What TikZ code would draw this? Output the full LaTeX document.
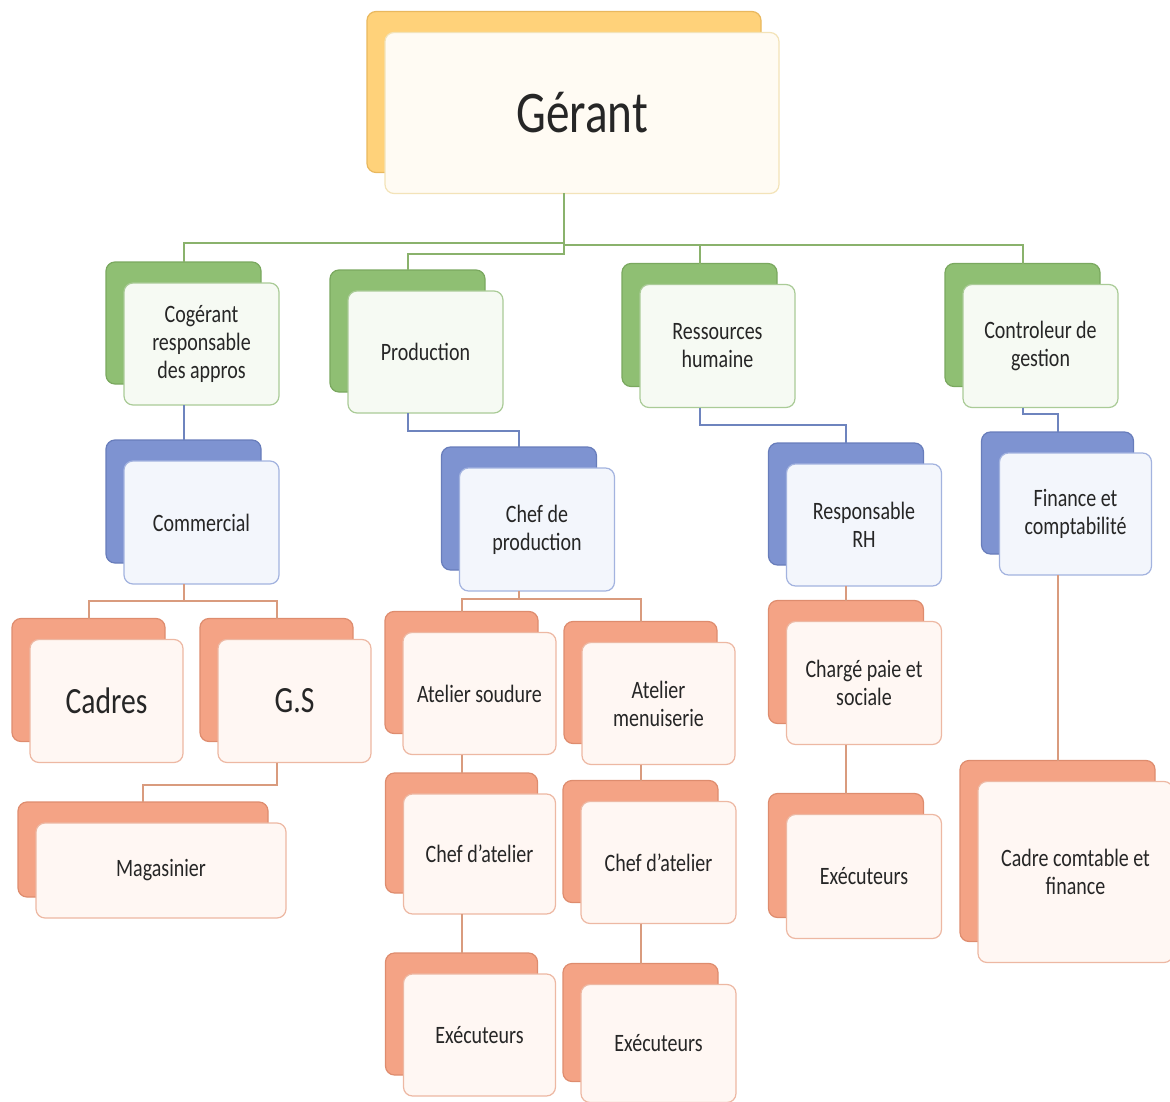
\documentclass[tikz,border=0pt]{standalone}
\usepackage{fontspec}
\setmainfont{Carlito}[FakeStretch=0.8]
\definecolor{txt}{HTML}{262626}
\definecolor{yback}{HTML}{FFD27A}
\definecolor{ybackd}{HTML}{E9B85E}
\definecolor{yfront}{HTML}{FFFBF3}
\definecolor{yfrontd}{HTML}{F3E3B8}
\definecolor{gback}{HTML}{8FBF73}
\definecolor{gbackd}{HTML}{7AA85F}
\definecolor{gfront}{HTML}{F6FAF3}
\definecolor{gfrontd}{HTML}{AACB97}
\definecolor{bback}{HTML}{7E93D1}
\definecolor{bbackd}{HTML}{687DBB}
\definecolor{bfront}{HTML}{F3F6FC}
\definecolor{bfrontd}{HTML}{A3B3DF}
\definecolor{oback}{HTML}{F4A385}
\definecolor{obackd}{HTML}{DE8C6E}
\definecolor{ofront}{HTML}{FFF7F3}
\definecolor{ofrontd}{HTML}{EDB8A3}
\definecolor{gl}{HTML}{8AB26C}
\definecolor{bl}{HTML}{6E84BE}
\definecolor{ol}{HTML}{D99B7E}
\tikzset{
  base/.style={rectangle, rounded corners=9pt, inner sep=0pt, outer sep=0pt, line width=1.2pt},
  backbox/.style={base, fill=#1back, draw=#1backd},
  frontbox/.style={base, fill=#1front, draw=#1frontd, align=center, text=txt,
    font=\fontsize{25}{28}\selectfont},
  gline/.style={draw=gl, line width=2pt},
  bline/.style={draw=bl, line width=2pt},
  oline/.style={draw=ol, line width=2pt},
}
\newcommand\orgnode[8][]{%
  \node[backbox=#3, minimum width=#6pt, minimum height=#7pt] (#2) at (#4,#5) {};
  \node[frontbox=#3, minimum width=#6pt, minimum height=#7pt, #1] (#2-f) at ([shift={(18,21)}]#2.center) {#8};
}
\begin{document}
\begin{tikzpicture}[x=1pt, y=-1pt]
\useasboundingbox (0,0) rectangle (1170,1102);
% level 0
\orgnode[font=\fontsize{59}{60}\selectfont]{ger}{y}{564}{92}{394}{161}{Gérant}
% level 1
\orgnode{cog}{g}{183.5}{323}{155}{122}{Cogérant\\responsable\\des appros}
\orgnode{prod}{g}{407.5}{331}{155}{122}{Production}
\orgnode{rhu}{g}{699.5}{325}{155}{123}{Ressources\\humaine}
\orgnode{ctl}{g}{1022.5}{325}{155}{123}{Controleur de\\gestion}
% level 2
\orgnode{com}{b}{183.5}{501.5}{155}{123}{Commercial}
\orgnode{chp}{b}{519}{508.5}{155}{123}{Chef de\\production}
\orgnode{rrh}{b}{846}{504}{155}{122}{Responsable\\RH}
\orgnode{fin}{b}{1057.5}{493}{152}{122}{Finance et\\comptabilité}
% level 3
\orgnode[font=\fontsize{37}{40}\selectfont]{cad}{o}{88.5}{680}{153}{123}{Cadres}
\orgnode[font=\fontsize{37}{40}\selectfont]{gs}{o}{276.5}{680}{153}{123}{G.S}
\orgnode{mag}{o}{143}{849.5}{250}{95}{Magasinier}
\orgnode{sou}{o}{461.5}{672.5}{153}{122}{Atelier soudure}
\orgnode{men}{o}{640.5}{682.5}{153}{122}{Atelier\\menuiserie}
\orgnode{caa}{o}{461.5}{833}{152}{120}{Chef d'atelier}
\orgnode{cab}{o}{640.5}{841.5}{155}{122}{Chef d'atelier}
\orgnode{exa}{o}{461.5}{1014}{152}{122}{Exécuteurs}
\orgnode{exb}{o}{640.5}{1022.5}{155}{118}{Exécuteurs}
\orgnode{chg}{o}{846}{662}{155}{123}{Chargé paie et\\sociale}
\orgnode{exr}{o}{846}{855.5}{155}{124}{Exécuteurs}
\orgnode{cct}{o}{1057.5}{851}{195}{181}{Cadre comtable et\\finance}
% connectors level 0 -> 1
\draw[gline] (ger.center |- ger-f.south) -- ++(0,50) -| (cog.north);
\draw[gline] (ger.center |- ger-f.south) -- ++(0,60) -| (prod.north);
\draw[gline] (ger.center |- ger-f.south) -- ++(0,52) -| (rhu.north);
\draw[gline] (ger.center |- ger-f.south) -- ++(0,52) -| (ctl.north);
% level 1 -> 2
\draw[bline] (cog.center |- cog-f.south) -- (com.north);
\draw[bline] (prod.center |- prod-f.south) -- ++(0,18) -| (chp.north);
\draw[bline] (rhu.center |- rhu-f.south) -- ++(0,17) -| (rrh.north);
\draw[bline] (ctl.center |- ctl-f.south) -- ++(0,6) -| (fin.north);
% level 2 -> 3
\draw[oline] (com.center |- com-f.south) -- ++(0,17) -| (cad.north);
\draw[oline] (com.center |- com-f.south) -- ++(0,17) -| (gs.north);
\draw[oline] (gs.center |- gs-f.south) -- ++(0,22) -| (mag.north);
\draw[oline] (chp.center |- chp-f.south) -- ++(0,8) -| (sou.north);
\draw[oline] (chp.center |- chp-f.south) -- ++(0,8) -| (men.north);
\draw[oline] (sou.center |- sou-f.south) -- (caa.north);
\draw[oline] (men.center |- men-f.south) -- (cab.north);
\draw[oline] (caa.center |- caa-f.south) -- (exa.north);
\draw[oline] (cab.center |- cab-f.south) -- (exb.north);
\draw[oline] (rrh.center |- rrh-f.south) -- (chg.north);
\draw[oline] (chg.center |- chg-f.south) -- (exr.north);
\draw[oline] (fin.center |- fin-f.south) -- (cct.north);
\end{tikzpicture}
\end{document}
